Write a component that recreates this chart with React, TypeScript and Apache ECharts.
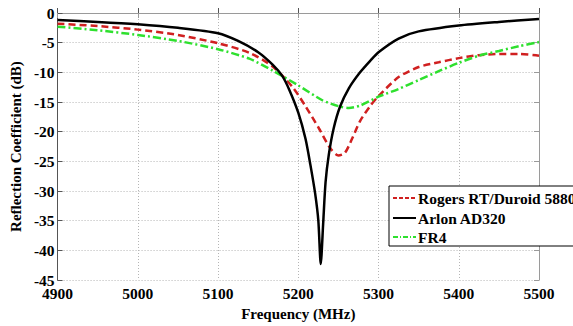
import React, { useEffect, useRef } from "react";
import * as echarts from "echarts";

const freqTicks = [4900, 5000, 5100, 5200, 5300, 5400, 5500];

const rogersF = [4900, 4950, 5000, 5050, 5100, 5139, 5168, 5193, 5209, 5226, 5240, 5250, 5258, 5267, 5277, 5290, 5300, 5325, 5350, 5375, 5400, 5425, 5450, 5475, 5500];
const rogersDb = [-1.8, -2.2, -2.8, -3.7, -5.1, -6.7, -9.0, -12.5, -15.7, -19.5, -22.8, -24.0, -23.6, -21.2, -18.2, -15.6, -14.0, -10.8, -9.1, -8.3, -7.6, -7.1, -6.9, -6.9, -7.2];

const arlonF = [4900, 4950, 5000, 5050, 5100, 5125, 5150, 5168, 5180, 5189, 5200, 5209, 5215, 5221, 5225, 5228, 5231, 5234, 5238, 5244, 5252, 5263, 5277, 5290, 5300, 5325, 5350, 5400, 5450, 5500];
const arlonDb = [-1.2, -1.5, -1.9, -2.5, -3.4, -4.7, -6.6, -8.7, -10.6, -13.0, -16.8, -21.2, -25.5, -30.4, -35.0, -42.3, -35.5, -28.5, -23.9, -19.5, -15.8, -12.7, -10.0, -8.0, -6.6, -4.3, -3.1, -2.1, -1.5, -1.0];

const fr4F = [4900, 4950, 5000, 5050, 5100, 5139, 5168, 5200, 5230, 5250, 5263, 5277, 5300, 5325, 5350, 5375, 5400, 5425, 5450, 5475, 5500];
const fr4Db = [-2.3, -2.9, -3.7, -4.7, -6.1, -7.7, -9.7, -12.2, -14.7, -15.7, -16.0, -15.6, -14.1, -12.8, -11.3, -9.8, -8.4, -7.2, -6.4, -5.6, -4.9];

const legendNames = ["Rogers RT/Duroid 5880", "Arlon AD320", "FR4"];
const colors = ["#d02020", "#000000", "#2ee02e"];

const zip = (xs: number[], ys: number[]) => xs.map((x, i) => [x, ys[i]]);

const FONT = "'Liberation Serif', 'Times New Roman', serif";

export default function App() {
  const ref = useRef<HTMLDivElement>(null);
  useEffect(() => {
    if (!ref.current) return;
    const chart = echarts.init(ref.current, null, { renderer: "svg" });
    const lineTypes: any[] = [[7, 4], "solid", [8, 3, 2, 3]];
    const legendX = 389;
    const legendY = 186;
    const rowYs = [198, 218, 237];
    const legendGraphics: any[] = [
      {
        type: "rect",
        shape: { x: legendX, y: legendY, width: 200, height: 60 },
        style: { fill: "#fff", stroke: "#000", lineWidth: 1 },
        z: 100,
      },
    ];
    legendNames.forEach((n, i) => {
      legendGraphics.push({
        type: "line",
        shape: { x1: legendX + 4, y1: rowYs[i], x2: legendX + 27, y2: rowYs[i] },
        style: { stroke: colors[i], lineWidth: 2, lineDash: i === 1 ? null : i === 0 ? [4, 2] : [5, 2, 1, 2] },
        z: 101,
      });
      legendGraphics.push({
        type: "text",
        x: legendX + 29,
        y: rowYs[i],
        style: {
          text: n,
          fill: "#000",
          fontFamily: FONT,
          fontWeight: "bold",
          fontSize: 15.5,
          verticalAlign: "middle",
          align: "left",
        },
        z: 101,
      });
    });
    const series = [
      zip(rogersF, rogersDb),
      zip(arlonF, arlonDb),
      zip(fr4F, fr4Db),
    ].map((d, i) => ({
      name: legendNames[i],
      type: "line",
      data: d,
      showSymbol: false,
      smooth: 0.25,
      lineStyle: { color: colors[i], width: 2.5, type: lineTypes[i] },
      z: i === 1 ? 3 : 2,
    }));
    const tickStyle = { color: "#000", fontFamily: FONT, fontWeight: "bold", fontSize: 15.5 };
    const nameStyle = { color: "#000", fontFamily: FONT, fontWeight: "bold", fontSize: 15 };
    const grid = "#b5b5b5";
    chart.setOption({
      animation: false,
      backgroundColor: "#fff",
      grid: { left: 53, right: 34, top: 13, bottom: 36, show: false },
      xAxis: [
        {
          type: "value",
          min: 4900,
          max: 5500,
          interval: 100,
          name: "Frequency (MHz)",
          nameLocation: "middle",
          nameGap: 19,
          nameTextStyle: nameStyle,
          axisLine: { show: true, lineStyle: { color: "#555", width: 1 } },
          axisTick: { show: true, inside: true, length: 5, lineStyle: { color: "#555" } },
          axisLabel: { ...tickStyle, margin: 5, formatter: (v: number) => (freqTicks.includes(v) ? String(v) : "") },
          splitLine: { show: true, lineStyle: { color: grid, type: [1, 2], width: 1 } },
        },
        {
          type: "value",
          position: "top",
          min: 4900,
          max: 5500,
          interval: 100,
          axisLine: { show: true, onZero: false, lineStyle: { color: "#9a9a9a", width: 1 } },
          axisTick: { show: true, inside: true, length: 5, lineStyle: { color: "#9a9a9a" } },
          axisLabel: { show: false },
          splitLine: { show: false },
        },
      ],
      yAxis: [
        {
          type: "value",
          min: -45,
          max: 0,
          interval: 5,
          name: "Reflection Coefficient (dB)",
          nameLocation: "middle",
          nameGap: 27,
          nameTextStyle: nameStyle,
          axisLine: { show: true, lineStyle: { color: "#555", width: 1 } },
          axisTick: { show: true, inside: true, length: 5, lineStyle: { color: "#555" } },
          axisLabel: { ...tickStyle, margin: 3 },
          splitLine: { show: true, lineStyle: { color: grid, type: [1, 2], width: 1 } },
        },
        {
          type: "value",
          position: "right",
          min: -45,
          max: 0,
          interval: 5,
          axisLine: { show: true, onZero: false, lineStyle: { color: "#9a9a9a", width: 1 } },
          axisTick: { show: true, inside: true, length: 5, lineStyle: { color: "#9a9a9a" } },
          axisLabel: { show: false },
          splitLine: { show: false },
        },
      ],
      series,
      graphic: legendGraphics,
    });
    return () => chart.dispose();
  }, []);
  return (
    <div
      ref={ref}
      style={{ position: "fixed", left: 0, top: 0, width: 573, height: 326, background: "#fff" }}
    />
  );
}
